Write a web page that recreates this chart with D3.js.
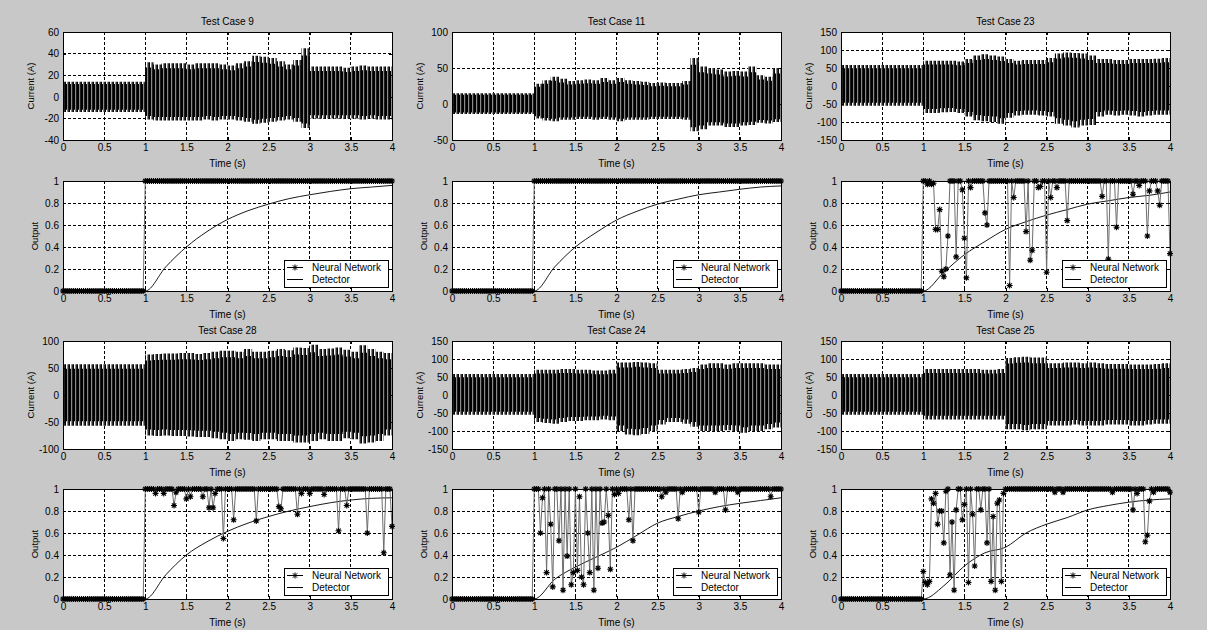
<!DOCTYPE html>
<html>
<head>
<meta charset="utf-8">
<script src="https://cdn.jsdelivr.net/npm/d3@7"></script>
<style>
  body { margin: 0; background: #c8c8c8; }
  svg { display: block; font-family: "Liberation Sans", Arial, sans-serif; }
</style>
</head>
<body>
<div class="canvas"></div>
<script>
// ---------- data ----------

// x axis (time, s) shared by every panel
const timeTicks = [0, 0.5, 1, 1.5, 2, 2.5, 3, 3.5, 4];
const outputTicks = [0, 0.2, 0.4, 0.6, 0.8, 1];

// start of each 0.1 s bin used for the current envelopes
const envTimes = [0, 0.1, 0.2, 0.3, 0.4, 0.5, 0.6, 0.7, 0.8, 0.9,
  1.0, 1.1, 1.2, 1.3, 1.4, 1.5, 1.6, 1.7, 1.8, 1.9,
  2.0, 2.1, 2.2, 2.3, 2.4, 2.5, 2.6, 2.7, 2.8, 2.9,
  3.0, 3.1, 3.2, 3.3, 3.4, 3.5, 3.6, 3.7, 3.8, 3.9];

// upper / lower peak of the current (A) in each bin
const case9Upper = [14, 14, 14, 14, 14, 14, 14, 14, 14, 14,
  32, 30, 31, 31, 31, 30, 31, 31, 31, 30,
  29, 31, 33, 38, 37, 36, 33, 30, 34, 45,
  28, 28, 28, 28, 27, 28, 29, 28, 28, 28];
const case9Lower = [-14, -14, -14, -14, -14, -14, -14, -14, -14, -14,
  -21, -22, -22, -22, -22, -22, -22, -21, -22, -21,
  -21, -22, -23, -25, -24, -23, -22, -21, -23, -29,
  -20, -20, -20, -20, -20, -20, -21, -20, -21, -21];

const case11Upper = [15, 15, 15, 15, 15, 15, 15, 15, 15, 15,
  28, 33, 38, 35, 32, 33, 34, 33, 36, 33,
  36, 33, 32, 31, 29, 30, 29, 29, 32, 64,
  52, 50, 48, 45, 46, 45, 52, 40, 38, 50];
const case11Lower = [-14, -14, -14, -14, -14, -14, -14, -14, -14, -14,
  -20, -23, -24, -22, -22, -21, -21, -22, -21, -22,
  -24, -22, -22, -22, -21, -21, -21, -21, -22, -38,
  -35, -30, -30, -32, -32, -30, -29, -26, -27, -25];

const case23Upper = [58, 58, 58, 58, 58, 58, 58, 58, 58, 58,
  70, 70, 70, 70, 68, 75, 85, 88, 85, 82,
  75, 70, 72, 72, 72, 78, 90, 93, 92, 90,
  85, 75, 75, 72, 72, 75, 75, 75, 76, 78];
const case23Lower = [-55, -55, -55, -55, -55, -55, -55, -55, -55, -55,
  -75, -75, -73, -72, -75, -85, -95, -98, -100, -105,
  -88, -82, -80, -80, -82, -85, -105, -110, -115, -110,
  -108, -85, -80, -82, -80, -82, -85, -82, -80, -80];

const case28Upper = [57, 57, 57, 57, 57, 57, 57, 57, 57, 57,
  75, 76, 77, 77, 78, 78, 76, 78, 80, 82,
  82, 80, 85, 80, 80, 82, 85, 83, 88, 87,
  93, 85, 86, 88, 84, 80, 92, 85, 80, 78];
const case28Lower = [-57, -57, -57, -57, -57, -57, -57, -57, -57, -57,
  -75, -76, -75, -76, -76, -77, -78, -78, -80, -82,
  -85, -82, -83, -85, -82, -82, -85, -85, -88, -88,
  -85, -82, -85, -85, -80, -82, -90, -88, -85, -75];

const case24Upper = [58, 58, 58, 58, 58, 58, 58, 58, 58, 58,
  70, 70, 70, 72, 72, 70, 70, 68, 68, 70,
  90, 90, 92, 90, 88, 70, 70, 70, 72, 75,
  85, 88, 88, 85, 88, 88, 88, 88, 85, 85];
const case24Lower = [-55, -55, -55, -55, -55, -55, -55, -55, -55, -55,
  -75, -78, -80, -75, -72, -72, -70, -70, -68, -70,
  -100, -110, -112, -108, -100, -82, -75, -75, -80, -88,
  -100, -100, -100, -98, -100, -105, -100, -100, -95, -90];

const case25Upper = [58, 58, 58, 58, 58, 58, 58, 58, 58, 58,
  72, 72, 72, 72, 72, 72, 72, 70, 70, 72,
  103, 105, 106, 104, 104, 88, 88, 90, 90, 88,
  90, 88, 86, 86, 86, 85, 85, 85, 86, 88];
const case25Lower = [-55, -55, -55, -55, -55, -55, -55, -55, -55, -55,
  -68, -68, -68, -68, -68, -68, -68, -68, -68, -68,
  -95, -95, -98, -95, -95, -85, -85, -85, -82, -85,
  -85, -85, -82, -82, -82, -85, -85, -82, -80, -80];

// y ticks of the current plots
const ticks9 = [-40, -20, 0, 20, 40, 60];
const ticks11 = [-50, 0, 50, 100];
const ticks28 = [-100, -50, 0, 50, 100];
const ticks150 = [-150, -100, -50, 0, 50, 100, 150];

// detector output, sampled at detTimes
const detTimes = [0, 1, 1.25, 1.5, 1.75, 2, 2.25, 2.5, 2.75, 3, 3.25, 3.5, 3.75, 4];
const case9Det = [0, 0, 0.22, 0.4, 0.54, 0.65, 0.73, 0.79, 0.84, 0.875, 0.905, 0.93, 0.945, 0.96];
const case11Det = [0, 0, 0.22, 0.4, 0.53, 0.645, 0.725, 0.79, 0.835, 0.875, 0.9, 0.925, 0.945, 0.955];
const case23Det = [0, 0, 0.17, 0.33, 0.45, 0.56, 0.63, 0.69, 0.74, 0.79, 0.82, 0.85, 0.87, 0.9];
const case28Det = [0, 0, 0.22, 0.4, 0.52, 0.615, 0.69, 0.75, 0.8, 0.84, 0.875, 0.9, 0.915, 0.92];
const case24Det = [0, 0, 0.18, 0.29, 0.38, 0.47, 0.58, 0.69, 0.75, 0.8, 0.84, 0.87, 0.895, 0.92];
const case25Det = [0, 0, 0.12, 0.3, 0.42, 0.47, 0.6, 0.68, 0.74, 0.81, 0.85, 0.88, 0.9, 0.91];

// neural network output: 0 before the fault, 1 after, except these samples [t, value]
const nnStep = 0.025;
const case9Dips = [];
const case11Dips = [];
const case23Dips = [[1.05, 0.97], [1.1, 0.97], [1.125, 0.98], [1.15, 0.56], [1.175, 0.56], [1.2, 0.74],
  [1.225, 0.18], [1.25, 0.13], [1.275, 0.2], [1.3, 0.5], [1.4, 0.31], [1.475, 0.92], [1.5, 0.48],
  [1.525, 0.12], [1.575, 0.94], [1.75, 0.71], [1.775, 0.6], [2.05, 0.05], [2.1, 0.85], [2.25, 0.54],
  [2.3, 0.28], [2.325, 0.37], [2.4, 0.94], [2.425, 0.95], [2.5, 0.17], [2.55, 0.85], [2.625, 0.94],
  [2.75, 0.64], [3.175, 0.86], [3.25, 0.29], [3.35, 0.58], [3.55, 0.88], [3.625, 0.96], [3.725, 0.5],
  [3.75, 0.91], [3.85, 0.91], [3.875, 0.78], [4.0, 0.34]];
const case28Dips = [[1.125, 0.96], [1.225, 0.96], [1.35, 0.85], [1.375, 0.97], [1.5, 0.91], [1.55, 0.93],
  [1.7, 0.93], [1.775, 0.83], [1.825, 0.83], [1.85, 0.96], [1.95, 0.55], [2.075, 0.72], [2.35, 0.71],
  [2.625, 0.84], [2.65, 0.82], [2.85, 0.77], [2.9, 0.96], [3.0, 0.96], [3.175, 0.95], [3.35, 0.62],
  [3.45, 0.85], [3.7, 0.6], [3.9, 0.42], [4.0, 0.66]];
const case24Dips = [[1.075, 0.6], [1.1, 0.92], [1.15, 0.24], [1.2, 0.68], [1.225, 0.11], [1.3, 0.53],
  [1.35, 0.08], [1.4, 0.39], [1.45, 0.13], [1.475, 0.24], [1.525, 0.26], [1.55, 0.93], [1.575, 0.2],
  [1.6, 0.13], [1.65, 0.6], [1.675, 0.24], [1.725, 0.08], [1.775, 0.28], [1.825, 0.69], [1.85, 0.7],
  [1.9, 0.76], [1.925, 0.27], [1.975, 0.95], [2.025, 0.96], [2.15, 0.72], [2.2, 0.53], [2.55, 0.93],
  [2.6, 0.97], [2.75, 0.73], [2.8, 0.97], [3.0, 0.79], [3.2, 0.97], [3.325, 0.81], [3.475, 0.97],
  [3.875, 0.93]];
const case25Dips = [[1.0, 0.25], [1.025, 0.15], [1.05, 0.13], [1.075, 0.16], [1.1, 0.91], [1.125, 0.87],
  [1.15, 0.96], [1.175, 0.68], [1.2, 0.8], [1.225, 0.8], [1.25, 0.51], [1.275, 0.98], [1.325, 0.22],
  [1.35, 0.7], [1.375, 0.08], [1.4, 0.81], [1.475, 0.72], [1.5, 0.86], [1.55, 0.15], [1.6, 0.77],
  [1.625, 0.3], [1.7, 0.81], [1.775, 0.51], [1.825, 0.16], [1.85, 0.75], [1.875, 0.08], [1.9, 0.87],
  [1.925, 0.9], [1.95, 0.16], [1.975, 0.96], [2.6, 0.97], [2.7, 0.97], [3.3, 0.97], [3.55, 0.81],
  [3.6, 0.96], [3.7, 0.52], [3.725, 0.58], [3.75, 0.89], [3.8, 0.97], [4.0, 0.97]];

const caseTitles = ['Test Case 9', 'Test Case 11', 'Test Case 23', 'Test Case 28', 'Test Case 24', 'Test Case 25'];

const cases = [
  { upper: case9Upper, lower: case9Lower, yTicks: ticks9, det: case9Det, dips: case9Dips },
  { upper: case11Upper, lower: case11Lower, yTicks: ticks11, det: case11Det, dips: case11Dips },
  { upper: case23Upper, lower: case23Lower, yTicks: ticks150, det: case23Det, dips: case23Dips },
  { upper: case28Upper, lower: case28Lower, yTicks: ticks28, det: case28Det, dips: case28Dips },
  { upper: case24Upper, lower: case24Lower, yTicks: ticks150, det: case24Det, dips: case24Dips },
  { upper: case25Upper, lower: case25Lower, yTicks: ticks150, det: case25Det, dips: case25Dips }
];

// ---------- layout ----------
const dims = {
  width: 1207,
  height: 630,
  left: [63, 452, 841],   // left edge of each column of axes
  plotW: 329,
  curTop: [32, 341],      // current axes per row
  curH: 108,
  outTop: [181, 489],     // output axes per row
  outH: 110
};

const svg = d3.select('.canvas')
  .append('svg')
  .attr('width', dims.width)
  .attr('height', dims.height);

svg.append('rect')
  .attr('width', dims.width)
  .attr('height', dims.height)
  .attr('fill', '#c8c8c8');

// stripe textures that imitate the dense, aliased waveform
const defs = svg.append('defs');
const core = defs.append('pattern')
  .attr('id', 'waveCore')
  .attr('width', 4)
  .attr('height', 4)
  .attr('patternUnits', 'userSpaceOnUse');
core.append('rect').attr('width', 4).attr('height', 4).attr('fill', '#000');
core.append('rect').attr('width', 1.2).attr('height', 4).attr('fill', '#8a8a8a');

const tips = defs.append('pattern')
  .attr('id', 'waveTips')
  .attr('width', 4)
  .attr('height', 4)
  .attr('patternUnits', 'userSpaceOnUse');
tips.append('rect').attr('width', 4).attr('height', 4).attr('fill', '#fff');
tips.append('rect').attr('width', 1.2).attr('height', 4).attr('fill', '#8a8a8a');
tips.append('rect').attr('x', 1.2).attr('width', 1.8).attr('height', 4).attr('fill', '#000');

const starPath = 'M-3,0H3M0,-3V3M-2.2,-2.2L2.2,2.2M-2.2,2.2L2.2,-2.2';

// white box, dotted grid, labels
const frame = (g, x, y, w, h, yTicks, yLabel, yLabelOff) => {
  g.append('rect')
    .attr('width', w)
    .attr('height', h)
    .attr('fill', '#fff');

  const grid = g.append('g')
    .attr('stroke', '#000')
    .attr('stroke-dasharray', '3,2')
    .attr('shape-rendering', 'crispEdges');
  grid.selectAll('.gx')
    .data(timeTicks.slice(1, -1))
    .join('line')
    .attr('x1', d => x(d)).attr('x2', d => x(d))
    .attr('y1', 0).attr('y2', h);
  grid.selectAll('.gy')
    .data(yTicks.slice(1, -1))
    .join('line')
    .attr('x1', 0).attr('x2', w)
    .attr('y1', d => y(d)).attr('y2', d => y(d));

  g.append('text')
    .attr('transform', `translate(${-yLabelOff}, ${h / 2}) rotate(-90)`)
    .attr('text-anchor', 'middle')
    .attr('font-size', 9.5)
    .text(yLabel);

  g.append('text')
    .attr('x', w / 2)
    .attr('y', h + 27)
    .attr('text-anchor', 'middle')
    .attr('font-size', 10)
    .text('Time (s)');
};

// axis ticks/labels and the black box go on top of the data
const axes = (g, x, y, w, h, yTicks) => {
  const style = a => {
    a.select('.domain').remove();
    a.attr('font-family', null).attr('font-size', 10);
    a.selectAll('line').attr('shape-rendering', 'crispEdges');
  };
  g.append('g')
    .attr('transform', `translate(0, ${h})`)
    .call(d3.axisBottom(x).tickValues(timeTicks).tickSize(-3).tickPadding(4).tickFormat(String))
    .call(style);
  g.append('g')
    .call(d3.axisTop(x).tickValues(timeTicks).tickSize(-3).tickFormat(''))
    .call(style);
  g.append('g')
    .call(d3.axisLeft(y).tickValues(yTicks).tickSize(-3).tickPadding(4).tickFormat(String))
    .call(style);
  g.append('g')
    .attr('transform', `translate(${w}, 0)`)
    .call(d3.axisRight(y).tickValues(yTicks).tickSize(-3).tickFormat(''))
    .call(style);

  g.append('rect')
    .attr('width', w)
    .attr('height', h)
    .attr('fill', 'none')
    .attr('stroke', '#000')
    .attr('shape-rendering', 'crispEdges');
};

cases.forEach((c, i) => {
  const col = i % 3;
  const row = Math.floor(i / 3);
  const w = dims.plotW;

  // ----- current panel -----
  const h1 = dims.curH;
  const g1 = svg.append('g')
    .attr('transform', `translate(${dims.left[col]}, ${dims.curTop[row]})`);
  const x = d3.scaleLinear().domain([0, 4]).range([0, w]);
  const yc = d3.scaleLinear()
    .domain([c.yTicks[0], c.yTicks[c.yTicks.length - 1]])
    .range([h1, 0]);

  frame(g1, x, yc, w, h1, c.yTicks, 'Current (A)', 29);

  const envData = envTimes.map((t, k) => ({ t, hi: c.upper[k], lo: c.lower[k] }));
  envData.push({ t: 4, hi: c.upper[c.upper.length - 1], lo: c.lower[c.lower.length - 1] });

  // outer band holds only the thin peaks, the core is solid
  const env = k => d3.area()
    .curve(d3.curveStepAfter)
    .x(d => x(d.t))
    .y0(d => yc(d.lo * k))
    .y1(d => yc(d.hi * k));

  g1.append('path')
    .attr('d', env(1)(envData))
    .attr('fill', 'url(#waveTips)');
  g1.append('path')
    .attr('d', env(0.85)(envData))
    .attr('fill', 'url(#waveCore)');

  axes(g1, x, yc, w, h1, c.yTicks);

  g1.append('text')
    .attr('x', w / 2)
    .attr('y', -7)
    .attr('text-anchor', 'middle')
    .attr('font-size', 10)
    .text(caseTitles[i]);

  // ----- output panel -----
  const h2 = dims.outH;
  const g2 = svg.append('g')
    .attr('transform', `translate(${dims.left[col]}, ${dims.outTop[row]})`);
  const yo = d3.scaleLinear().domain([0, 1]).range([h2, 0]);

  frame(g2, x, yo, w, h2, outputTicks, 'Output', 25);

  // detector
  const detLine = d3.line()
    .curve(d3.curveMonotoneX)
    .x((d, k) => x(detTimes[k]))
    .y(d => yo(d));
  g2.append('path')
    .attr('d', detLine(c.det))
    .attr('fill', 'none')
    .attr('stroke', '#000')
    .attr('stroke-width', 0.9);

  // neural network
  const nnTimes = d3.range(Math.round(4 / nnStep) + 1).map(k => k * nnStep);
  const nnVals = nnTimes.map(t => (t < 1 - 1e-9 ? 0 : 1));
  c.dips.forEach(([t, v]) => { nnVals[Math.round(t / nnStep)] = v; });
  const nn = nnTimes.map((t, k) => ({ t, v: nnVals[k] }));

  g2.append('path')
    .attr('d', d3.line().x(d => x(d.t)).y(d => yo(d.v))(nn))
    .attr('fill', 'none')
    .attr('stroke', '#6e6e6e')
    .attr('stroke-width', 1);

  g2.append('g')
    .selectAll('path')
    .data(nn)
    .join('path')
    .attr('transform', d => `translate(${x(d.t)}, ${yo(d.v)})`)
    .attr('d', starPath)
    .attr('fill', 'none')
    .attr('stroke', '#000')
    .attr('stroke-width', 1.1);

  axes(g2, x, yo, w, h2, outputTicks);

  // legend
  const lg = g2.append('g')
    .attr('transform', `translate(${w - 4 - 104}, ${h2 - 4 - 27})`);
  lg.append('rect')
    .attr('width', 104)
    .attr('height', 27)
    .attr('fill', '#fff')
    .attr('stroke', '#000')
    .attr('shape-rendering', 'crispEdges');
  lg.append('line')
    .attr('x1', 3).attr('x2', 19).attr('y1', 7.5).attr('y2', 7.5)
    .attr('stroke', '#000');
  lg.append('path')
    .attr('transform', 'translate(11, 7.5)')
    .attr('d', starPath)
    .attr('fill', 'none')
    .attr('stroke', '#000');
  lg.append('line')
    .attr('x1', 3).attr('x2', 19).attr('y1', 19.5).attr('y2', 19.5)
    .attr('stroke', '#000');
  lg.selectAll('text')
    .data(['Neural Network', 'Detector'])
    .join('text')
    .attr('x', 28)
    .attr('y', (d, k) => 7.5 + k * 12)
    .attr('dy', '0.35em')
    .attr('font-size', 10)
    .text(d => d);
});
</script>
</body>
</html>
